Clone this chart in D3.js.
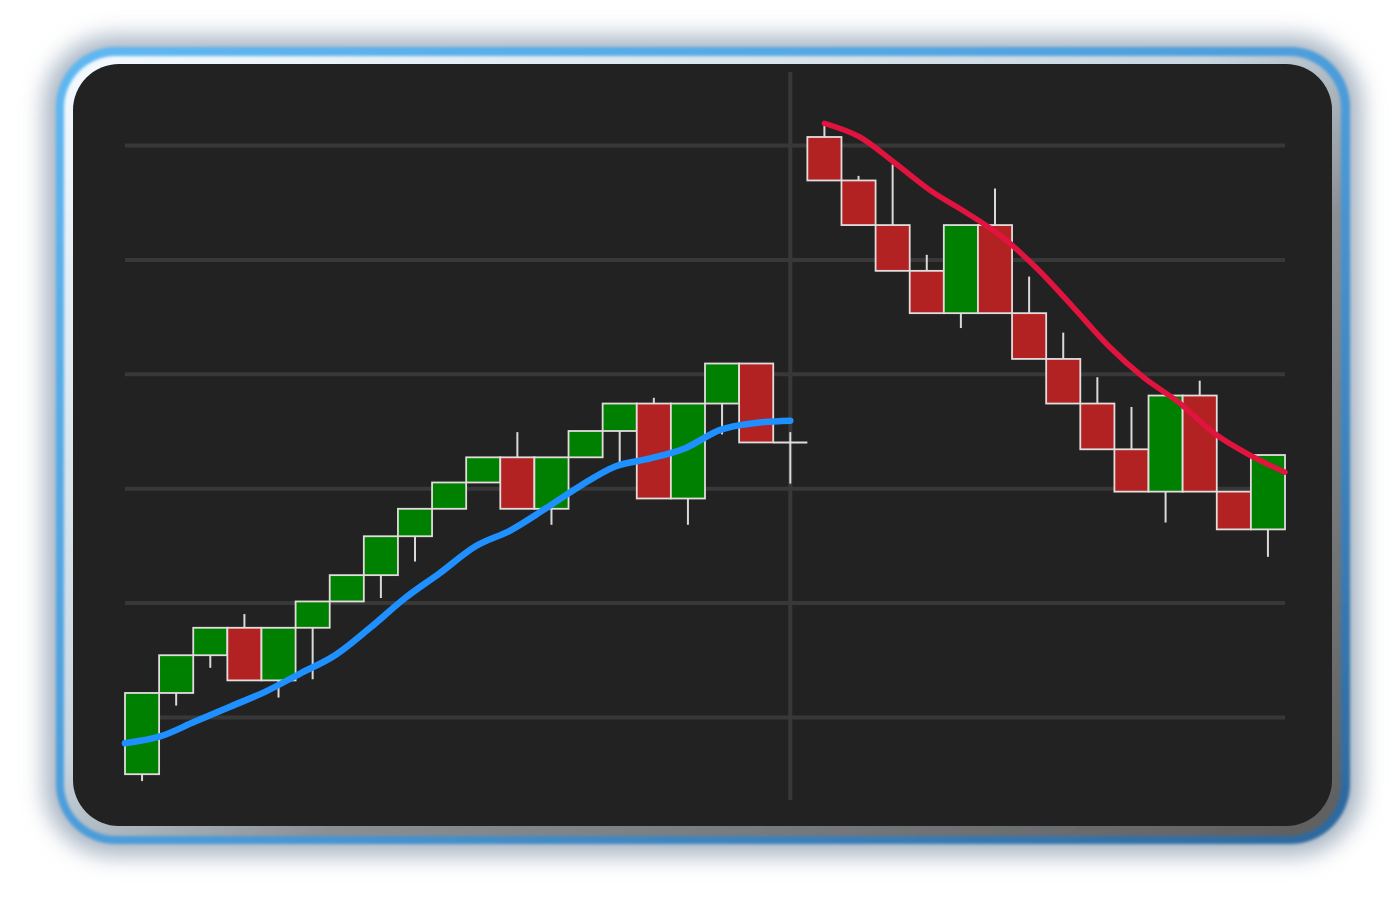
<!DOCTYPE html>
<html>
<head>
<meta charset="utf-8">
<script src="https://cdn.jsdelivr.net/npm/d3@7"></script>
<style>
  html, body { margin: 0; padding: 0; background: #ffffff; }
  svg { display: block; }
</style>
</head>
<body>
<svg id="chart" width="1400" height="901"></svg>
<script>
// ---------------- DATA ----------------
const categories = d3.range(1, 35).map(d => "D" + d);
const opens  = [95.0,102.1,105.4,107.8,103.2,107.8,110.1,112.4,115.8,118.2,120.5,122.7,118.2,122.7,125.0,127.4,119.1,127.4,130.9,124.0,
                150.7,146.9,143.0,139.0,135.3,143.0,135.3,131.3,127.4,123.4,119.7,128.1,119.7,116.4];
const highs  = [102.1,105.4,107.8,109.0,107.8,110.1,112.4,115.8,118.2,120.5,122.7,124.9,122.7,125.0,127.4,127.9,127.4,130.9,130.9,124.9,
                151.7,147.3,148.3,140.4,143.0,146.2,138.5,133.6,129.7,127.1,128.1,129.4,119.7,122.9];
const lows   = [94.4,101.0,104.3,103.2,101.7,103.3,110.1,110.4,113.6,118.2,120.5,118.2,116.8,122.7,122.2,119.1,116.8,124.7,124.0,120.4,
                146.9,143.0,139.0,135.3,134.0,135.3,131.3,127.4,123.4,119.7,117.0,119.7,116.4,114.0];
const closes = [102.1,105.4,107.8,103.2,107.8,110.1,112.4,115.8,118.2,120.5,122.7,118.2,122.7,125.0,127.4,119.1,127.4,130.9,124.0,124.0,
                146.9,143.0,139.0,135.3,143.0,135.3,131.3,127.4,123.4,119.7,128.1,119.7,116.4,122.9];
const blueLine = [97.7,98.3,99.6,100.9,102.2,103.8,105.4,107.8,110.4,112.6,114.9,116.3,118.2,120.2,121.9,122.6,123.5,125.1,125.7,125.9];
const redLine  = [151.9,150.7,148.4,146.0,144.1,142.0,139.2,135.9,132.5,129.7,127.5,124.8,122.9,121.4];
const gridTicks = [100, 110, 120, 130, 140, 150];
const dividerIndex = 19; // doji candle where the vertical divider sits

// ---------------- SETUP ----------------
const svg = d3.select("#chart");
const defs = svg.append("defs");

const blueGrad = defs.append("linearGradient").attr("id", "blueGrad")
  .attr("x1", "0%").attr("y1", "0%").attr("x2", "100%").attr("y2", "100%");
blueGrad.append("stop").attr("offset", "0%").attr("stop-color", "#5fb8f2");
blueGrad.append("stop").attr("offset", "55%").attr("stop-color", "#4a9ad8");
blueGrad.append("stop").attr("offset", "100%").attr("stop-color", "#2c679c");

const bevelGrad = defs.append("linearGradient").attr("id", "bevelGrad")
  .attr("x1", "0%").attr("y1", "0%").attr("x2", "100%").attr("y2", "100%");
bevelGrad.append("stop").attr("offset", "0%").attr("stop-color", "#f4faff");
bevelGrad.append("stop").attr("offset", "45%").attr("stop-color", "#c9d6e0");
bevelGrad.append("stop").attr("offset", "60%").attr("stop-color", "#8a8f94");
bevelGrad.append("stop").attr("offset", "100%").attr("stop-color", "#5e5e5e");

const blur = defs.append("filter").attr("id", "softShadow")
  .attr("x", "-10%").attr("y", "-10%").attr("width", "120%").attr("height", "120%");
blur.append("feGaussianBlur").attr("stdDeviation", 11);

const blur2 = defs.append("filter").attr("id", "ringBlur")
  .attr("x", "-10%").attr("y", "-10%").attr("width", "120%").attr("height", "120%");
blur2.append("feGaussianBlur").attr("stdDeviation", 1.6);

// Frame
svg.append("rect").attr("x", 44).attr("y", 36).attr("width", 1318).attr("height", 820)
  .attr("rx", 70).attr("fill", "#a9b6c4").attr("filter", "url(#softShadow)");
svg.append("rect").attr("x", 56).attr("y", 47).attr("width", 1294).attr("height", 797)
  .attr("rx", 60).attr("fill", "url(#blueGrad)").attr("filter", "url(#ringBlur)");
svg.append("rect").attr("x", 64).attr("y", 56).attr("width", 1277).attr("height", 780)
  .attr("rx", 52).attr("fill", "url(#bevelGrad)").attr("filter", "url(#ringBlur)");
svg.append("rect").attr("x", 73).attr("y", 64).attr("width", 1259).attr("height", 762)
  .attr("rx", 46).attr("fill", "#222222");

// Scales
const x = d3.scaleBand().domain(categories).range([125, 1285]).padding(0);
const y = d3.scaleLinear().domain([100, 150]).range([717, 145]);

// Gridlines via axis
const grid = svg.append("g").attr("transform", `translate(125,0)`)
  .call(d3.axisLeft(y).tickValues(gridTicks).tickSize(-1160).tickFormat(""));
grid.select(".domain").remove();
grid.selectAll(".tick line").attr("stroke", "#383838").attr("stroke-width", 4);

// Vertical divider
const divX = x(categories[dividerIndex]) + x.bandwidth() / 2;
svg.append("line").attr("x1", divX).attr("x2", divX).attr("y1", 72).attr("y2", 800)
  .attr("stroke", "#383838").attr("stroke-width", 4);

// Candles
const data = categories.map((c, i) => ({ c, o: opens[i], h: highs[i], l: lows[i], cl: closes[i] }));
const bw = x.bandwidth();
const candles = svg.append("g");
candles.selectAll("line.wick").data(data).join("line")
  .attr("class", "wick")
  .attr("x1", d => x(d.c) + bw / 2).attr("x2", d => x(d.c) + bw / 2)
  .attr("y1", d => y(d.h)).attr("y2", d => y(d.l))
  .attr("stroke", "#d9d9d9").attr("stroke-width", 2);
candles.selectAll("rect.body").data(data.filter(d => d.o !== d.cl)).join("rect")
  .attr("class", "body")
  .attr("x", d => x(d.c)).attr("width", bw)
  .attr("y", d => y(Math.max(d.o, d.cl)))
  .attr("height", d => Math.abs(y(d.o) - y(d.cl)))
  .attr("fill", d => d.cl > d.o ? "#008000" : "#b22222")
  .attr("stroke", "#e2dcdc").attr("stroke-width", 1.8);
candles.selectAll("line.doji").data(data.filter(d => d.o === d.cl)).join("line")
  .attr("class", "doji")
  .attr("x1", d => x(d.c)).attr("x2", d => x(d.c) + bw)
  .attr("y1", d => y(d.o)).attr("y2", d => y(d.o))
  .attr("stroke", "#e2dcdc").attr("stroke-width", 2);

// Lines
const blueX = d3.scalePoint().domain(d3.range(blueLine.length))
  .range([x(categories[0]), x(categories[blueLine.length - 1]) + bw / 2]);
svg.append("path").datum(blueLine)
  .attr("d", d3.line().x((d, i) => blueX(i)).y(d => y(d)).curve(d3.curveMonotoneX))
  .attr("fill", "none").attr("stroke", "#1e90ff").attr("stroke-width", 6.5)
  .attr("stroke-linecap", "round").attr("stroke-linejoin", "round");

const redStart = categories.length - redLine.length;
const redX = d3.scalePoint().domain(d3.range(redLine.length))
  .range([x(categories[redStart]) + bw / 2, x(categories[categories.length - 1]) + bw]);
svg.append("path").datum(redLine)
  .attr("d", d3.line().x((d, i) => redX(i)).y(d => y(d)).curve(d3.curveMonotoneX))
  .attr("fill", "none").attr("stroke", "#e0143f").attr("stroke-width", 5.5)
  .attr("stroke-linecap", "round").attr("stroke-linejoin", "round");
</script>
</body>
</html>
